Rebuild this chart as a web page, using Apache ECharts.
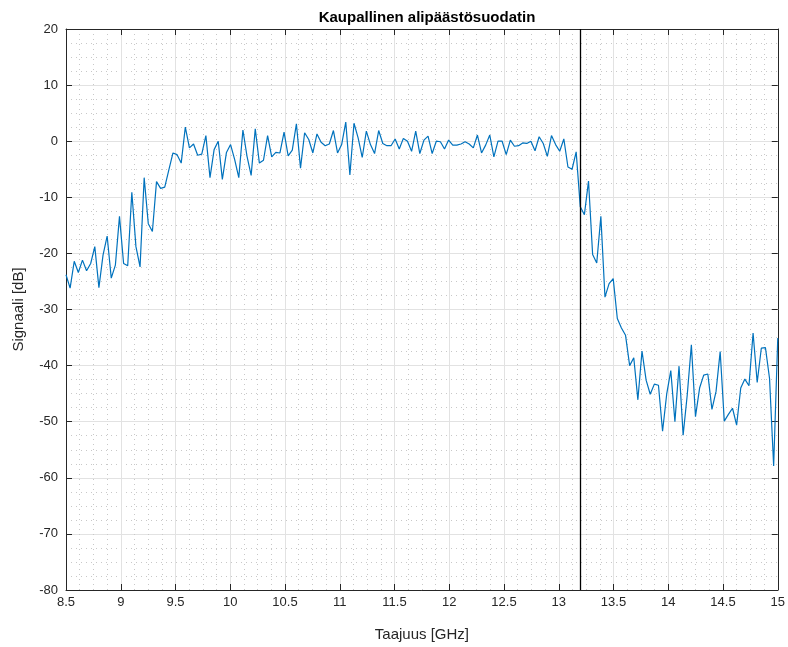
<!DOCTYPE html>
<html>
<head>
<meta charset="utf-8">
<title>Kaupallinen alipäästösuodatin</title>
<script src="https://cdn.jsdelivr.net/npm/echarts@6/dist/echarts.min.js"></script>
<style>
  html, body { margin: 0; padding: 0; background: #ffffff; }
  #chart { width: 788px; height: 647px; }
</style>
</head>
<body>
<div id="chart"></div>
<script>
// Measured response of a commercial low-pass filter
const fStart = 8.5;          // GHz
const fStop = 15;            // GHz
const cutoffGHz = 13.2;      // marked cut-off frequency

const signalDb = [
  -23.8, -26.2, -21.4, -23.4, -21.2, -23.1, -21.8, -18.8, -26.1, -20.3,
  -16.9, -24.4, -22.1, -13.4, -21.8, -22.2, -9.1, -18.8, -22.4, -6.5,
  -14.7, -16.1, -7.2, -8.4, -8.2, -5.1, -2.1, -2.4, -3.9, 2.5,
  -1.2, -0.5, -2.5, -2.3, 1.0, -6.5, -1.5, 0.0, -6.8, -2.0,
  -0.6, -3.3, -6.5, 2.0, -2.7, -6.1, 2.2, -3.9, -3.4, 1.0,
  -2.8, -2.0, -2.1, 1.6, -2.6, -1.6, 3.1, -4.8, 1.5, 0.3,
  -2.1, 1.3, -0.2, -0.8, -0.5, 1.9, -2.1, -0.6, 3.4, -6.0,
  3.2, 0.6, -2.9, 1.8, -0.6, -2.2, 1.9, -0.4, -0.8, -0.8,
  0.4, -1.4, 0.5, 0.0, -1.8, 1.8, -2.2, 0.2, 0.9, -2.2,
  0.0, -0.1, -1.4, 0.2, -0.7, -0.7, -0.5, -0.1, -0.5, -1.2,
  1.1, -2.1, -0.7, 1.1, -2.8, 0.0, 0.0, -2.4, 0.2, -0.9,
  -0.8, -0.3, -0.4, 0.0, -1.7, 0.8, -0.4, -2.7, 1.0, -0.6,
  -1.8, 0.4, -4.6, -5.0, -1.9, -11.7, -13.1, -7.1, -20.2, -21.7,
  -13.4, -27.8, -25.4, -24.5, -31.6, -33.3, -34.6, -40.0, -38.6, -46.1,
  -37.4, -42.6, -45.1, -43.3, -43.5, -51.7, -45.1, -40.9, -50.0, -40.1,
  -52.4, -45.2, -36.3, -49.1, -44.0, -41.7, -41.5, -47.8, -44.6, -37.5,
  -49.9, -48.7, -47.6, -50.6, -44.0, -42.4, -43.6, -34.2, -43.0, -36.9,
  -36.8, -42.3, -57.9, -35.1
];

// Frequency sweep points, evenly spaced from fStart to fStop
const freqGHz = signalDb.map((_, i) => fStart + i * (fStop - fStart) / (signalDb.length - 1));

const titleText = 'Kaupallinen alipäästösuodatin';
const xName = 'Taajuus [GHz]';
const yName = 'Signaali [dB]';

const axisColor = '#262626';
const font = 'Liberation Sans, Arial, Helvetica, sans-serif';

const majorGrid = { show: true, lineStyle: { color: '#e2e2e2', width: 1 } };
const minorGrid = { show: true, lineStyle: { color: '#c8c8c8', width: 1, type: [1, 4] } };

const chart = echarts.init(document.getElementById('chart'), null, { renderer: 'canvas' });

chart.setOption({
  backgroundColor: '#ffffff',
  animation: false,
  title: {
    text: titleText,
    left: 422,
    textAlign: 'center',
    top: 5,
    textStyle: { fontFamily: font, fontSize: 15, fontWeight: 'bold', color: '#000000' }
  },
  grid: { left: 66, top: 29, width: 713, height: 568, containLabel: false },
  xAxis: [
    {
      type: 'value', min: fStart, max: fStop, interval: 0.5,
      name: xName, nameLocation: 'middle', nameGap: 37,
      nameTextStyle: { fontFamily: font, fontSize: 15, color: axisColor },
      axisLine: { show: true, onZero: false, lineStyle: { color: axisColor, width: 1 } },
      axisTick: { show: true, inside: true, length: 6, lineStyle: { color: axisColor } },
      axisLabel: { margin: 6, fontFamily: font, fontSize: 13, color: axisColor },
      splitLine: majorGrid,
      minorTick: { show: false, splitNumber: 4 },
      minorSplitLine: minorGrid
    },
    {
      type: 'value', min: fStart, max: fStop, interval: 0.5, position: 'top',
      axisLine: { show: true, onZero: false, lineStyle: { color: axisColor, width: 1 } },
      axisTick: { show: true, inside: true, length: 6, lineStyle: { color: axisColor } },
      axisLabel: { show: false },
      splitLine: { show: false }
    }
  ],
  yAxis: [
    {
      type: 'value', min: -80, max: 20, interval: 10,
      name: yName, nameLocation: 'middle', nameGap: 40, nameRotate: 90,
      nameTextStyle: { fontFamily: font, fontSize: 15, color: axisColor },
      axisLine: { show: true, onZero: false, lineStyle: { color: axisColor, width: 1 } },
      axisTick: { show: true, inside: true, length: 6, lineStyle: { color: axisColor } },
      axisLabel: { margin: 8, fontFamily: font, fontSize: 13, color: axisColor },
      splitLine: majorGrid,
      minorTick: { show: false, splitNumber: 4 },
      minorSplitLine: minorGrid
    },
    {
      type: 'value', min: -80, max: 20, interval: 10, position: 'right',
      axisLine: { show: true, onZero: false, lineStyle: { color: axisColor, width: 1 } },
      axisTick: { show: true, inside: true, length: 6, lineStyle: { color: axisColor } },
      axisLabel: { show: false },
      splitLine: { show: false }
    }
  ],
  series: [
    {
      type: 'line',
      data: freqGHz.map((f, i) => [f, signalDb[i]]),
      showSymbol: false,
      symbol: 'none',
      lineStyle: { color: '#0072BD', width: 1.2 },
      clip: true,
      markLine: {
        silent: true,
        symbol: ['none', 'none'],
        label: { show: false },
        lineStyle: { color: '#000000', width: 1.3, type: 'solid' },
        data: [{ xAxis: cutoffGHz }]
      }
    }
  ]
});
</script>
</body>
</html>
